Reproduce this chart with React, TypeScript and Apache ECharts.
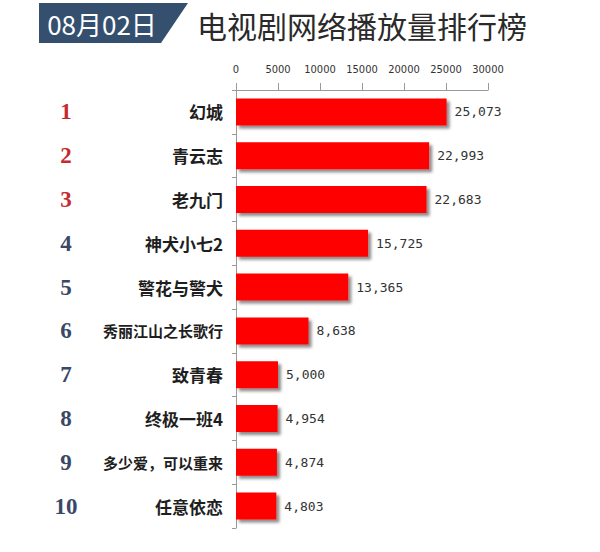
import React, { useEffect, useRef } from "react";
import * as echarts from "echarts";

const dateLabel = "08月02日";
const titleText = "电视剧网络播放量排行榜";
const ranks = ["1", "2", "3", "4", "5", "6", "7", "8", "9", "10"];
const shows = ["幻城", "青云志", "老九门", "神犬小七2", "警花与警犬", "秀丽江山之长歌行", "致青春", "终极一班4", "多少爱，可以重来", "任意依恋"];
const plays = [25073, 22993, 22683, 15725, 13365, 8638, 5000, 4954, 4874, 4803];
const longNames = ["秀丽江山之长歌行", "多少爱，可以重来"];
const axisMax = 30000;
const axisStep = 5000;

function withCommas(v: number): string {
  return String(v).replace(/\B(?=(\d{3})+(?!\d))/g, ",");
}

export default function App() {
  const ref = useRef<HTMLDivElement>(null);
  useEffect(() => {
    if (!ref.current) return;
    const chart = echarts.init(ref.current, undefined, { renderer: "svg" });
    const cjk = "'Noto Sans CJK SC', 'Noto Sans', sans-serif";
    chart.setOption({
      animation: false,
      backgroundColor: "#ffffff",
      graphic: [
        {
          type: "polygon",
          shape: { points: [[39, 3], [188, 3], [161, 43], [39, 43]] },
          style: { fill: "#35506f" },
          z: 10,
        },
        {
          type: "text",
          x: 102,
          y: 23,
          style: {
            text: dateLabel,
            fill: "#ffffff",
            font: `26px ${cjk}`,
            textAlign: "center",
            textVerticalAlign: "middle",
          },
          z: 11,
        },
        {
          type: "text",
          x: 362,
          y: 25,
          style: {
            text: titleText,
            fill: "#2a2a2a",
            font: `30px ${cjk}`,
            textAlign: "center",
            textVerticalAlign: "middle",
          },
          z: 11,
        },
      ],
      grid: { left: 236, top: 90, width: 252, height: 438, containLabel: false },
      xAxis: {
        type: "value",
        position: "top",
        min: 0,
        max: axisMax,
        interval: axisStep,
        axisLine: { show: true, lineStyle: { color: "#9a9a9a", width: 1 } },
        axisTick: { show: true, length: 7, lineStyle: { color: "#9a9a9a" } },
        splitLine: { show: false },
        axisLabel: {
          margin: 15,
          color: "#333",
          fontSize: 11,
          fontFamily: "'DejaVu Sans Condensed', 'DejaVu Sans', sans-serif",
          formatter: (v: number) => String(v),
        },
      },
      yAxis: {
        type: "category",
        inverse: true,
        data: shows,
        axisLine: { show: true, lineStyle: { color: "#9a9a9a" } },
        axisTick: { show: true, length: 4, lineStyle: { color: "#9a9a9a" } },
        axisLabel: {
          margin: 13,
          formatter: (value: string, idx: number) => {
            const rk = ranks[idx];
            const rs = idx < 3 ? "rr" : "rb";
            const ns = longNames.indexOf(value) >= 0 ? "ns" : "n";
            return `{${rs}|${rk}}{${ns}|${value}}`;
          },
          rich: {
            rr: {
              width: 40,
              align: "center",
              color: "#c42b30",
              fontSize: 23,
              fontWeight: "bold",
              fontFamily: "'Liberation Serif', 'DejaVu Serif', serif",
            },
            rb: {
              width: 40,
              align: "center",
              color: "#3a4868",
              fontSize: 23,
              fontWeight: "bold",
              fontFamily: "'Liberation Serif', 'DejaVu Serif', serif",
            },
            n: {
              width: 137,
              align: "right",
              color: "#1e1e1e",
              fontSize: 17,
              fontWeight: "bold",
              fontFamily: cjk,
            },
            ns: {
              width: 137,
              align: "right",
              color: "#1e1e1e",
              fontSize: 15,
              fontWeight: "bold",
              fontFamily: cjk,
            },
          },
        },
      },
      series: [
        {
          type: "bar",
          data: plays,
          barWidth: 27,
          itemStyle: {
            color: "#ff0000",
            shadowColor: "rgba(0,0,0,0.45)",
            shadowOffsetX: 3,
            shadowOffsetY: 3,
            shadowBlur: 3,
          },
          label: {
            show: true,
            position: "right",
            distance: 8,
            color: "#333333",
            fontSize: 13,
            fontFamily: "'DejaVu Sans Mono', 'Liberation Mono', monospace",
            formatter: (p: any) => withCommas(p.value as number),
          },
        },
      ],
    });
    return () => chart.dispose();
  }, []);
  return (
    <div
      ref={ref}
      style={{ position: "fixed", left: 0, top: 0, width: 600, height: 552 }}
    />
  );
}
